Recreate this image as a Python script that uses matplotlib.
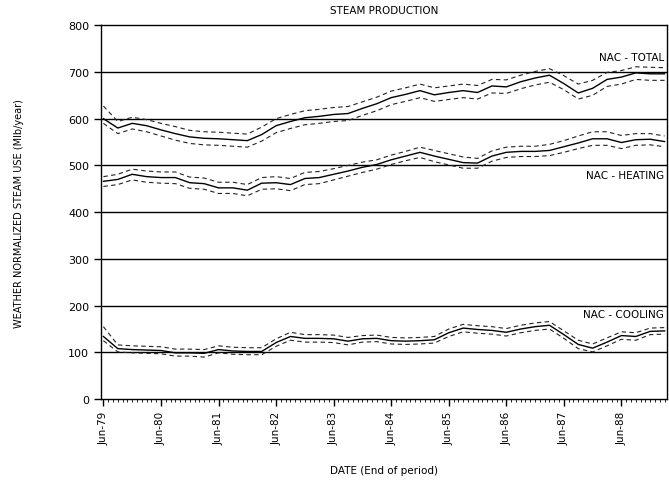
import matplotlib.pyplot as plt
from matplotlib.ticker import MultipleLocator

# months after Jun-79, one point every three months
months = [0, 3, 6, 9, 12, 15, 18, 21, 24, 27, 30, 33, 36, 39, 42, 45, 48, 51, 54, 57,
          60, 63, 66, 69, 72, 75, 78, 81, 84, 87, 90, 93, 96, 99, 102, 105, 108, 111, 114, 117]

total = [600, 580, 590, 585, 576, 568, 561, 558, 557, 555, 553, 566, 585, 594, 602, 605, 609, 611, 622, 632,
         645, 652, 660, 651, 656, 660, 656, 670, 668, 679, 687, 693, 675, 655, 665, 684, 689, 698, 696, 696]
total_hi = [627, 594, 603, 598, 590, 583, 575, 572, 571, 569, 567, 582, 600, 609, 617, 620, 624, 626, 636, 646,
            659, 666, 674, 666, 670, 674, 671, 684, 683, 693, 701, 707, 692, 674, 682, 699, 703, 711, 710, 709]
total_lo = [590, 568, 578, 572, 563, 554, 547, 544, 543, 541, 539, 552, 570, 579, 587, 590, 594, 596, 607, 617,
            630, 637, 645, 637, 641, 645, 642, 655, 654, 664, 672, 678, 662, 642, 650, 669, 674, 684, 682, 682]

heating = [466, 470, 481, 476, 474, 474, 463, 461, 452, 452, 447, 462, 463, 459, 472, 474, 481, 488, 496, 502,
           512, 520, 528, 520, 513, 506, 505, 520, 528, 530, 530, 532, 540, 548, 557, 557, 549, 555, 556, 551]
heating_hi = [476, 481, 492, 488, 486, 486, 475, 473, 464, 464, 459, 474, 476, 472, 485, 487, 493, 500, 507, 512,
              522, 530, 539, 532, 525, 518, 515, 531, 539, 541, 541, 545, 553, 563, 572, 572, 564, 568, 568, 563]
heating_lo = [455, 459, 469, 464, 462, 461, 451, 449, 440, 440, 435, 449, 450, 446, 459, 461, 469, 477, 485, 492,
              502, 510, 517, 508, 501, 494, 494, 509, 517, 519, 519, 521, 528, 536, 543, 543, 536, 543, 544, 540]

cooling = [134, 108, 106, 105, 104, 99, 99, 98, 106, 103, 102, 102, 121, 134, 130, 130, 129, 124, 129, 130,
           125, 124, 125, 127, 142, 152, 149, 147, 143, 150, 155, 158, 138, 117, 109, 122, 136, 134, 145, 146]
cooling_hi = [155, 116, 114, 113, 112, 107, 107, 106, 114, 111, 110, 110, 129, 143, 138, 138, 137, 132, 136, 137,
              132, 131, 132, 134, 150, 160, 157, 155, 151, 158, 163, 166, 146, 126, 118, 131, 144, 142, 152, 153]
cooling_lo = [125, 101, 99, 98, 97, 92, 92, 90, 99, 96, 95, 95, 113, 126, 122, 122, 121, 116, 122, 123,
              118, 117, 118, 120, 134, 144, 141, 139, 135, 142, 147, 150, 130, 108, 101, 114, 128, 126, 138, 139]

tick_pos = [0, 12, 24, 36, 48, 60, 72, 84, 96, 108]
tick_labels = ['Jun-79', 'Jun-80', 'Jun-81', 'Jun-82', 'Jun-83',
               'Jun-84', 'Jun-85', 'Jun-86', 'Jun-87', 'Jun-88']

# ------------------------------------------------------------------

fig = plt.figure(figsize=(6.69, 4.85), dpi=100)
ax = fig.add_axes([0.151, 0.175, 0.846, 0.771])

for y in range(100, 800, 100):
    ax.axhline(y, color='black', linewidth=1.0, zorder=1)

for mid, hi, lo in [(total, total_hi, total_lo),
                    (heating, heating_hi, heating_lo),
                    (cooling, cooling_hi, cooling_lo)]:
    ax.plot(months, mid, color='black', linewidth=1.0, zorder=3)
    ax.plot(months, hi, color='#222222', linewidth=0.8, dashes=(4, 3), zorder=3)
    ax.plot(months, lo, color='#222222', linewidth=0.8, dashes=(4, 3), zorder=3)

ax.set_xlim(-0.5, 117.5)
ax.set_ylim(0, 800)
ax.set_yticks(range(0, 900, 100))
ax.set_xticks(tick_pos)
ax.set_xticklabels(tick_labels, rotation=90, fontsize=7.5)
ax.xaxis.set_minor_locator(MultipleLocator(1))
ax.tick_params(axis='y', labelsize=8, length=5, width=1)
ax.tick_params(axis='x', which='major', length=5, width=1)
ax.tick_params(axis='x', which='minor', length=2.5, width=0.6)

for s in ax.spines.values():
    s.set_linewidth(1.0)

ax.text(0.995, 721, 'NAC - TOTAL', transform=ax.get_yaxis_transform(),
        ha='right', va='bottom', fontsize=7.5)
ax.text(0.995, 490, 'NAC - HEATING', transform=ax.get_yaxis_transform(),
        ha='right', va='top', fontsize=7.5)
ax.text(0.995, 172, 'NAC - COOLING', transform=ax.get_yaxis_transform(),
        ha='right', va='bottom', fontsize=7.5)

ax.set_title('STEAM PRODUCTION', fontsize=7.5, pad=9)
ax.set_xlabel('DATE (End of period)', fontsize=7.5, labelpad=15)
ax.set_ylabel('WEATHER NORMALIZED STEAM USE (Mlb/year)', fontsize=7, labelpad=32)

fig.savefig('out.png', dpi=100)
